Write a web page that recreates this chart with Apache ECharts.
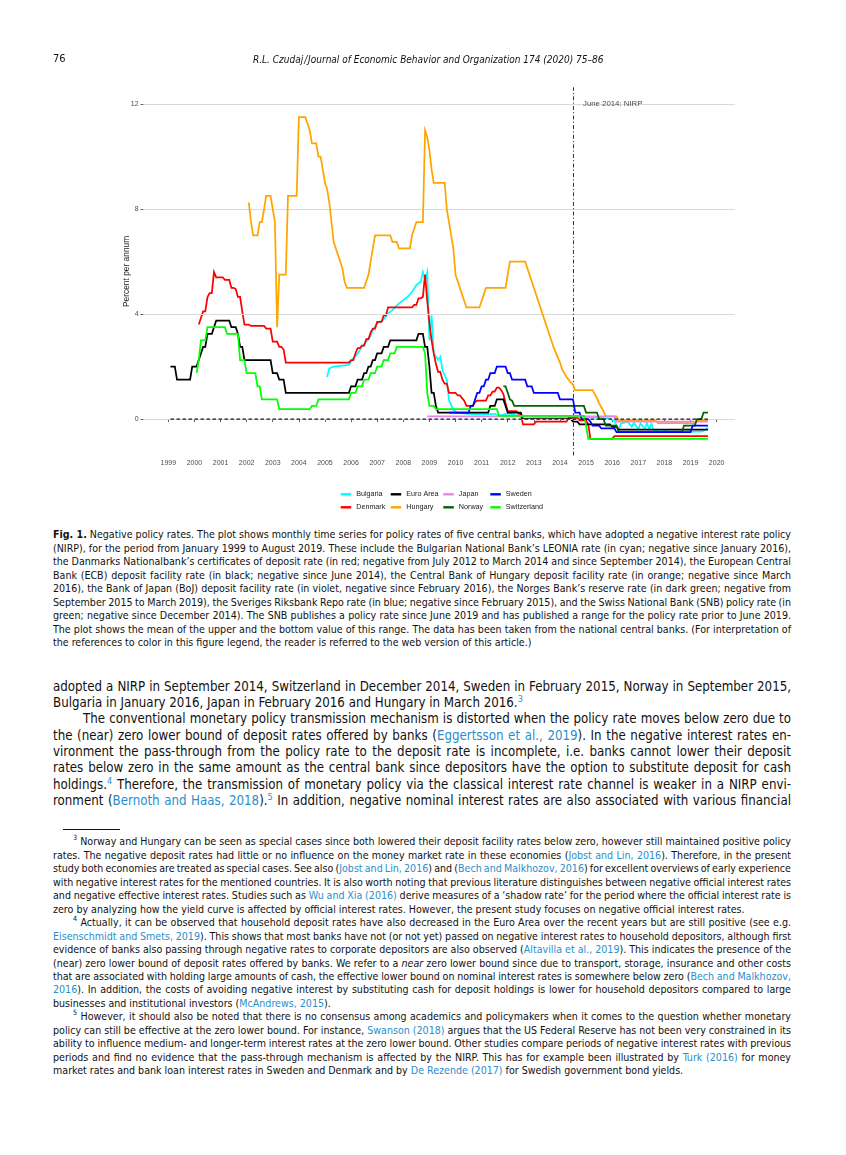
<!DOCTYPE html>
<html>
<head>
<meta charset="utf-8">
<script src="https://cdn.jsdelivr.net/npm/echarts@6.0.0/dist/echarts.min.js"></script>
<style>
  html, body { margin:0; padding:0; background:#fff; }
  body { width:846px; height:1155px; position:relative; overflow:hidden; color:#111;
         font-family:'Liberation Sans Narrow','DejaVu Sans Condensed','Noto Sans',sans-serif; }
  #chart { position:absolute; left:0; top:0; width:846px; height:520px; }
  .blk { position:absolute; left:53px; width:738px; }
  .ln { white-space:nowrap; }
  .cap .ln { font-size:10.6px; line-height:13.5px; height:13.5px; }
  .body .ln { font-size:13.2px; line-height:16.3px; height:16.3px; }
  .fn .ln { font-size:10.6px; line-height:13.47px; height:13.47px; }
  sup { font-size:68%; line-height:0; vertical-align:super; }
  a { color:#2a8ecb; text-decoration:none; }
  .hdr { position:absolute; top:52px; font-size:11px; line-height:14px; white-space:nowrap; z-index:5; }
</style>
</head>
<body>
<div id="chart"></div>
<div class="hdr" style="left:53px;">76</div>
<div class="hdr" style="left:253px; font-style:italic; font-size:10px; top:52.5px;">R.L. Czudaj&#8202;/&#8202;Journal of Economic Behavior and Organization 174 (2020) 75–86</div>

<div class="blk cap" style="top:528.3px;">
  <div class="ln j"><span><b>Fig. 1.</b> Negative policy rates. The plot shows monthly time series for policy rates of five central banks, which have adopted a negative interest rate policy</span></div>
  <div class="ln j"><span>(NIRP), for the period from January 1999 to August 2019. These include the Bulgarian National Bank’s LEONIA rate (in cyan; negative since January 2016),</span></div>
  <div class="ln j"><span>the Danmarks Nationalbank’s certificates of deposit rate (in red; negative from July 2012 to March 2014 and since September 2014), the European Central</span></div>
  <div class="ln j"><span>Bank (ECB) deposit facility rate (in black; negative since June 2014), the Central Bank of Hungary deposit facility rate (in orange; negative since March</span></div>
  <div class="ln j"><span>2016), the Bank of Japan (BoJ) deposit facility rate (in violet, negative since February 2016), the Norges Bank’s reserve rate (in dark green; negative from</span></div>
  <div class="ln j"><span>September 2015 to March 2019), the Sveriges Riksbank Repo rate (in blue; negative since February 2015), and the Swiss National Bank (SNB) policy rate (in</span></div>
  <div class="ln j"><span>green; negative since December 2014). The SNB publishes a policy rate since June 2019 and has published a range for the policy rate prior to June 2019.</span></div>
  <div class="ln j"><span>The plot shows the mean of the upper and the bottom value of this range. The data has been taken from the national central banks. (For interpretation of</span></div>
  <div class="ln"><span>the references to color in this figure legend, the reader is referred to the web version of this article.)</span></div>
</div>

<div class="blk body" style="top:678.9px;">
  <div class="ln j"><span>adopted a NIRP in September 2014, Switzerland in December 2014, Sweden in February 2015, Norway in September 2015,</span></div>
  <div class="ln"><span>Bulgaria in January 2016, Japan in February 2016 and Hungary in March 2016.<sup><a>3</a></sup></span></div>
  <div class="ln j" style="padding-left:30px;"><span>The conventional monetary policy transmission mechanism is distorted when the policy rate moves below zero due to</span></div>
  <div class="ln j"><span>the (near) zero lower bound of deposit rates offered by banks (<a>Eggertsson et al., 2019</a>). In the negative interest rates en-</span></div>
  <div class="ln j"><span>vironment the pass-through from the policy rate to the deposit rate is incomplete, i.e. banks cannot lower their deposit</span></div>
  <div class="ln j"><span>rates below zero in the same amount as the central bank since depositors have the option to substitute deposit for cash</span></div>
  <div class="ln j"><span>holdings.<sup><a>4</a></sup> Therefore, the transmission of monetary policy via the classical interest rate channel is weaker in a NIRP envi-</span></div>
  <div class="ln j"><span>ronment (<a>Bernoth and Haas, 2018</a>).<sup><a>5</a></sup> In addition, negative nominal interest rates are also associated with various financial</span></div>
</div>

<div style="position:absolute; left:63px; top:828.5px; width:57px; height:1px; background:#111;"></div>

<div class="blk fn" style="top:835.3px;">
  <div class="ln j" style="padding-left:20px;"><span><sup>3</sup> Norway and Hungary can be seen as special cases since both lowered their deposit facility rates below zero, however still maintained positive policy</span></div>
  <div class="ln j"><span>rates. The negative deposit rates had little or no influence on the money market rate in these economies (<a>Jobst and Lin, 2016</a>). Therefore, in the present</span></div>
  <div class="ln j"><span>study both economies are treated as special cases. See also (<a>Jobst and Lin, 2016</a>) and (<a>Bech and Malkhozov, 2016</a>) for excellent overviews of early experience</span></div>
  <div class="ln j"><span>with negative interest rates for the mentioned countries. It is also worth noting that previous literature distinguishes between negative official interest rates</span></div>
  <div class="ln j"><span>and negative effective interest rates. Studies such as <a>Wu and Xia (2016)</a> derive measures of a ‘shadow rate’ for the period where the official interest rate is</span></div>
  <div class="ln"><span>zero by analyzing how the yield curve is affected by official interest rates. However, the present study focuses on negative official interest rates.</span></div>
  <div class="ln j" style="padding-left:20px;"><span><sup>4</sup> Actually, it can be observed that household deposit rates have also decreased in the Euro Area over the recent years but are still positive (see e.g.</span></div>
  <div class="ln j"><span><a>Eisenschmidt and Smets, 2019</a>). This shows that most banks have not (or not yet) passed on negative interest rates to household depositors, although first</span></div>
  <div class="ln j"><span>evidence of banks also passing through negative rates to corporate depositors are also observed (<a>Altavilla et al., 2019</a>). This indicates the presence of the</span></div>
  <div class="ln j"><span>(near) zero lower bound of deposit rates offered by banks. We refer to a <i>near</i> zero lower bound since due to transport, storage, insurance and other costs</span></div>
  <div class="ln j"><span>that are associated with holding large amounts of cash, the effective lower bound on nominal interest rates is somewhere below zero (<a>Bech and Malkhozov,</a></span></div>
  <div class="ln j"><span><a>2016</a>). In addition, the costs of avoiding negative interest by substituting cash for deposit holdings is lower for household depositors compared to large</span></div>
  <div class="ln"><span>businesses and institutional investors (<a>McAndrews, 2015</a>).</span></div>
  <div class="ln j" style="padding-left:20px;"><span><sup>5</sup> However, it should also be noted that there is no consensus among academics and policymakers when it comes to the question whether monetary</span></div>
  <div class="ln j"><span>policy can still be effective at the zero lower bound. For instance, <a>Swanson (2018)</a> argues that the US Federal Reserve has not been very constrained in its</span></div>
  <div class="ln j"><span>ability to influence medium- and longer-term interest rates at the zero lower bound. Other studies compare periods of negative interest rates with previous</span></div>
  <div class="ln j"><span>periods and find no evidence that the pass-through mechanism is affected by the NIRP. This has for example been illustrated by <a>Turk (2016)</a> for money</span></div>
  <div class="ln"><span>market rates and bank loan interest rates in Sweden and Denmark and by <a>De Rezende (2017)</a> for Swedish government bond yields.</span></div>
</div>

<script>
// ---------------- DATA (month = end-of-month observation; step series list the month a new value starts) ----------------
const yearTicks = [1999,2000,2001,2002,2003,2004,2005,2006,2007,2008,2009,2010,2011,2012,2013,2014,2015,2016,2017,2018,2019,2020];
const rateTicks = [0,4,8,12];

const bulgaria = [["2005-01",1.6],["2005-02",1.93],["2005-04",2.0],["2005-11",2.06],["2006-01",2.31],["2006-03",2.5],["2006-05",2.75],["2006-07",2.95],["2006-09",3.16],["2006-10",3.39],["2006-12",3.64],["2007-03",3.8],["2007-05",4.03],["2007-07",4.15],["2007-10",4.41],["2008-02",4.66],["2008-04",4.85],["2008-06",5.1],["2008-08",5.23],["2008-09",5.6],["2008-10",5.3],["2008-11",5.6],["2008-12",3.0],["2009-01",3.95],["2009-02",2.5],["2009-04",2.25],["2009-05",2.37],["2009-06",1.87],["2009-08",1.49],["2009-09",0.72],["2009-11",0.34],["2010-01",0.24],["2010-06",0.2],["2011-01",0.18],["2011-06",0.2],["2011-08",0.12],["2011-12",0.22],["2012-06",0.1],["2013-01",0.07],["2014-03",0.06],["2014-09",0.1],["2015-03",0.06],["2015-10",0.03],["2016-01",-0.06],["2016-03",-0.42],["2016-04",-0.17],["2016-07",-0.1],["2016-09",-0.29],["2016-10",-0.14],["2016-12",-0.39],["2017-01",-0.17],["2017-03",-0.36],["2017-04",-0.14],["2017-05",-0.39],["2017-06",-0.17],["2017-07",-0.42],["2017-10",-0.48],["2018-01",-0.45],["2018-02",-0.48],["2019-05",-0.48],["2019-07",-0.4],["2019-08",-0.33]];

const denmark = [["2000-02",3.6],["2000-03",3.85],["2000-04",4.1],["2000-06",4.65],["2000-07",4.8],["2000-09",5.6],["2000-10",5.4],["2001-02",5.3],["2001-05",5.0],["2001-07",4.95],["2001-08",4.65],["2001-10",4.1],["2001-11",3.6],["2002-02",3.55],["2002-09",3.45],["2002-12",2.95],["2003-03",2.75],["2003-05",2.65],["2003-06",2.15],["2005-12",2.25],["2006-02",2.5],["2006-03",2.7],["2006-05",2.8],["2006-07",3.05],["2006-09",3.3],["2006-10",3.45],["2006-12",3.7],["2007-03",3.95],["2007-05",4.25],["2008-05",4.35],["2008-07",4.6],["2008-09",4.65],["2008-10",5.5],["2008-11",4.5],["2008-12",3.65],["2009-01",3.0],["2009-02",2.5],["2009-03",2.1],["2009-04",1.8],["2009-06",1.5],["2009-07",1.35],["2009-09",1.0],["2010-01",0.9],["2010-03",0.8],["2010-04",0.7],["2010-05",0.5],["2010-09",0.65],["2010-10",0.7],["2011-03",0.9],["2011-05",1.05],["2011-07",1.2],["2011-09",1.1],["2011-10",0.95],["2011-11",0.6],["2011-12",0.3],["2012-05",0.2],["2012-07",-0.2],["2013-01",-0.1],["2014-04",0.05],["2014-09",-0.05],["2015-01",-0.2],["2015-02",-0.75],["2016-01",-0.65],["2019-08",-0.65]];

const euroArea = [["1999-01",2.0],["1999-04",1.5],["1999-11",2.0],["2000-02",2.25],["2000-03",2.5],["2000-04",2.75],["2000-06",3.25],["2000-09",3.5],["2000-10",3.75],["2001-05",3.5],["2001-08",3.25],["2001-09",2.75],["2001-11",2.25],["2002-12",1.75],["2003-03",1.5],["2003-06",1.0],["2005-12",1.25],["2006-03",1.5],["2006-06",1.75],["2006-08",2.0],["2006-10",2.25],["2006-12",2.5],["2007-03",2.75],["2007-06",3.0],["2008-07",3.25],["2008-10",2.75],["2008-12",2.0],["2009-01",1.0],["2009-03",0.5],["2009-04",0.25],["2011-04",0.5],["2011-07",0.75],["2011-11",0.5],["2011-12",0.25],["2012-07",0.0],["2014-06",-0.1],["2014-09",-0.2],["2015-12",-0.3],["2016-03",-0.4],["2019-08",-0.4]];

const hungary = [["2002-01",8.25],["2002-02",7.5],["2002-03",7.0],["2002-06",7.5],["2002-08",8.0],["2002-09",8.5],["2002-12",8.0],["2003-01",7.5],["2003-02",3.5],["2003-03",5.5],["2003-07",8.5],["2003-12",11.5],["2004-04",11.25],["2004-05",11.0],["2004-06",10.5],["2004-09",10.0],["2004-11",9.5],["2004-12",9.0],["2005-01",8.75],["2005-02",8.25],["2005-03",7.5],["2005-04",6.75],["2005-05",6.5],["2005-06",6.25],["2005-07",6.0],["2005-08",5.75],["2005-09",5.25],["2005-10",5.0],["2006-07",5.25],["2006-08",5.5],["2006-09",6.0],["2006-10",6.5],["2006-11",7.0],["2007-07",6.75],["2007-10",6.5],["2008-04",7.0],["2008-05",7.25],["2008-06",7.5],["2008-10",11.0],["2008-11",10.75],["2008-12",10.25],["2009-01",9.5],["2009-02",9.0],["2009-08",8.0],["2009-09",7.5],["2009-10",7.0],["2009-11",6.5],["2009-12",5.5],["2010-01",5.25],["2010-02",5.0],["2010-03",4.75],["2010-04",4.5],["2010-05",4.25],["2010-12",4.5],["2011-01",4.75],["2011-02",5.0],["2011-12",5.5],["2012-01",6.0],["2012-09",5.75],["2012-10",5.5],["2012-11",5.25],["2012-12",5.0],["2013-01",4.75],["2013-02",4.5],["2013-03",4.25],["2013-04",4.0],["2013-05",3.75],["2013-06",3.5],["2013-07",3.25],["2013-08",3.0],["2013-09",2.75],["2013-10",2.55],["2013-11",2.35],["2013-12",2.15],["2014-01",1.9],["2014-02",1.75],["2014-03",1.6],["2014-04",1.5],["2014-05",1.4],["2014-06",1.3],["2014-07",1.1],["2015-04",0.95],["2015-05",0.8],["2015-06",0.6],["2015-07",0.45],["2015-08",0.3],["2015-09",0.1],["2016-03",-0.05],["2017-09",-0.15],["2019-03",-0.05],["2019-08",-0.05]];

const japan = [["2008-11",0.1],["2016-02",-0.1],["2019-08",-0.1]];

const norway = [["2011-10",1.25],["2011-12",1.0],["2012-01",0.75],["2012-02",0.7],["2012-03",0.5],["2014-12",0.25],["2015-06",0.0],["2015-09",-0.25],["2016-03",-0.5],["2018-09",-0.25],["2019-03",0.0],["2019-06",0.25],["2019-08",0.25]];

const sweden = [["2009-09",0.25],["2010-07",0.5],["2010-09",0.75],["2010-10",1.0],["2010-12",1.25],["2011-02",1.5],["2011-04",1.75],["2011-07",2.0],["2011-12",1.75],["2012-02",1.5],["2012-09",1.25],["2012-12",1.0],["2013-12",0.75],["2014-07",0.25],["2014-10",0.0],["2015-02",-0.1],["2015-03",-0.25],["2015-07",-0.35],["2016-02",-0.5],["2019-01",-0.25],["2019-08",-0.25]];

const switzerland = [["2000-01",1.75],["2000-02",2.25],["2000-03",3.0],["2000-06",3.5],["2001-03",3.25],["2001-09",2.25],["2001-12",1.75],["2002-05",1.25],["2002-07",0.75],["2003-03",0.375],["2004-06",0.5],["2004-09",0.75],["2005-12",1.0],["2006-03",1.25],["2006-06",1.5],["2006-09",1.75],["2006-12",2.0],["2007-03",2.25],["2007-06",2.5],["2007-09",2.75],["2008-10",2.5],["2008-11",1.0],["2008-12",0.5],["2009-03",0.375],["2011-08",0.125],["2014-12",-0.25],["2015-01",-0.75],["2019-08",-0.75]];

const zeroLine = [["1999-01",0],["2019-08",0]];
const nirpDate = "2014-06";
const nirpLabel = "June 2014: NIRP";

// ---------------- helpers ----------------
function t(s){ const p = s.split('-'); return +p[0] + (+p[1])/12; }
function toXY(arr){ return arr.map(d => [t(d[0]), d[1]]); }
// monthly line through change points: the previous value is held until the month before a change
function toMonthlyPath(arr){
  const out = [];
  arr.forEach((d,i) => {
    const x = t(d[0]);
    if (i > 0) {
      const prevX = out[out.length-1][0];
      const holdX = x - 1/12;
      if (holdX > prevX + 1e-9) out.push([holdX, arr[i-1][1]]);
    }
    out.push([x, d[1]]);
  });
  return out;
}

const defs = [
  {name:'Bulgaria',    data:bulgaria,    color:'#00FFFF', held:false},
  {name:'Denmark',     data:denmark,     color:'#FF0000', held:true},
  {name:'Euro Area',   data:euroArea,    color:'#000000', held:true},
  {name:'Hungary',     data:hungary,     color:'#FFA500', held:true},
  {name:'Japan',       data:japan,       color:'#EE82EE', held:true},
  {name:'Norway',      data:norway,      color:'#006400', held:true},
  {name:'Sweden',      data:sweden,      color:'#0000FF', held:true},
  {name:'Switzerland', data:switzerland, color:'#00FF00', held:true}
];
const legendCols = [['Bulgaria','Denmark'],['Euro Area','Hungary'],['Japan','Norway'],['Sweden','Switzerland']];

// layout (pixels)
const G = {left:143.6, top:87.3, width:591.2, height:368.2};
const X_MIN = 1998.054, X_MAX = 2020.696, Y_MIN = -1.3875, Y_MAX = 12.6375;
const legendColX = [340.7, 390.7, 443.3, 490.3];
const legendRowY = [494.3, 507.3];
const FONT = 'Liberation Sans, Arial, sans-serif';

const chart = echarts.init(document.getElementById('chart'), null, {renderer:'canvas'});

const series = [];
series.push({ type:'line', name:'_grid', data:[], z:1, silent:true, animation:false,
  markLine:{ silent:true, symbol:['none','none'], label:{show:false}, animation:false,
    lineStyle:{color:'#d9d9d9', width:1, type:'solid'},
    data: rateTicks.map(v => ({yAxis:v})) } });
series.push({ type:'line', name:'_nirp', data:[], z:1, silent:true, animation:false,
  markLine:{ silent:true, symbol:['none','none'], label:{show:false}, animation:false,
    lineStyle:{color:'#333333', width:1, type:[4,2.2,1.2,2.2]},
    data: [{xAxis:t(nirpDate)}] } });
defs.forEach((d,i) => {
  series.push({ type:'line', name:d.name, data: d.held ? toMonthlyPath(d.data) : toXY(d.data), color:d.color,
    showSymbol:false, symbol:'none', z:2+i, animation:false, silent:true,
    lineStyle:{color:d.color, width:1.75, cap:'butt', join:'miter'} });
});
series.push({ type:'line', name:'_zero', data:toXY(zeroLine), z:20, showSymbol:false, symbol:'none',
  animation:false, silent:true, lineStyle:{color:'#1a1a1a', width:1.2, type:[3.6,2.4]} });
series.push({ type:'scatter', name:'_ann', data:[[t(nirpDate), 12]], symbolSize:0, z:21, silent:true, animation:false,
  label:{show:true, position:'right', distance:10, formatter:nirpLabel, color:'#1a1a1a',
    fontSize:7.8, fontFamily:FONT} });

const legends = [];
legendCols.forEach((col,ci) => col.forEach((name,ri) => {
  legends.push({ data:[name], left:legendColX[ci], top:legendRowY[ri]-5, orient:'horizontal',
    icon:'rect', itemWidth:10.5, itemHeight:2.4, itemGap:0, padding:0, selectedMode:false,
    textStyle:{fontSize:7.2, fontFamily:FONT, color:'#1a1a1a', lineHeight:10, padding:[0,0,0,0]} });
}));

chart.setOption({
  animation:false,
  backgroundColor:'transparent',
  grid:{left:G.left, top:G.top, width:G.width, height:G.height, containLabel:false},
  xAxis:{ type:'value', min:X_MIN, max:X_MAX,
    axisLine:{show:false},
    axisTick:{show:true, customValues:yearTicks, length:3, lineStyle:{color:'#333', width:0.8}},
    axisLabel:{show:true, customValues:yearTicks, formatter:v => String(Math.round(v)),
      fontSize:7, color:'#4d4d4d', fontFamily:FONT, margin:4.5},
    splitLine:{show:false} },
  yAxis:{ type:'value', min:Y_MIN, max:Y_MAX,
    name:'Percent per annum', nameLocation:'middle', nameGap:12.5, nameRotate:90, nameMoveOverlap:false,
    nameTextStyle:{fontSize:8.4, color:'#1a1a1a', fontFamily:FONT},
    axisLine:{show:false},
    axisTick:{show:true, customValues:rateTicks, length:3, lineStyle:{color:'#333', width:0.8}},
    axisLabel:{show:true, customValues:rateTicks, formatter:v => String(Math.round(v)),
      fontSize:7, color:'#4d4d4d', fontFamily:FONT, margin:5},
    splitLine:{show:false} },
  legend: legends,
  series: series
});

// ---------------- justify each text line to the column width ----------------
document.querySelectorAll('.ln.j').forEach(div => {
  const span = div.firstElementChild;
  const cs = getComputedStyle(div);
  const target = div.clientWidth - parseFloat(cs.paddingLeft) - parseFloat(cs.paddingRight);
  const w = span.getBoundingClientRect().width;
  const n = (span.textContent.match(/ /g) || []).length;
  if (n > 0) span.style.wordSpacing = ((target - w) / n) + 'px';
});
</script>
</body>
</html>
